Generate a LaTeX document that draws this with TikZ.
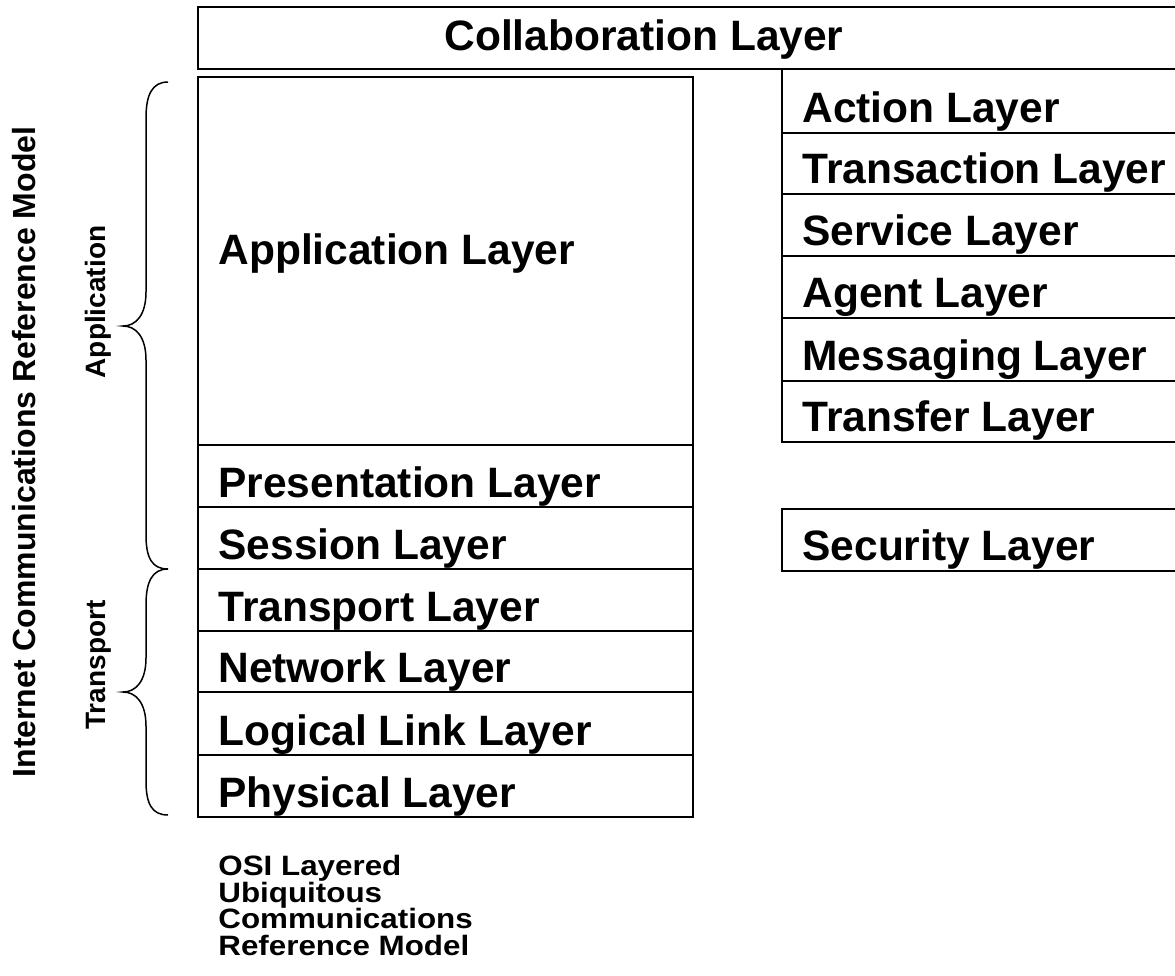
\documentclass[tikz,border=0pt]{standalone}
\usepackage{fontspec}
\setmainfont{Liberation Sans}
\newfontfamily\captfamily[FakeStretch=1.12]{Liberation Sans}
\usetikzlibrary{fit}
\newcommand\captfontsetup{\captfamily\fontsize{14pt}{13.3pt}\selectfont\bfseries\setlength{\lineskiplimit}{-30pt}\setlength{\lineskip}{0pt}}
\begin{document}
\begin{tikzpicture}[x=0.5pt,y=-0.5pt,
  box/.style={draw=black, line width=0.75pt, inner sep=0pt, outer sep=0pt},
  big/.style={font=\fontsize{21.25pt}{24pt}\selectfont\bfseries, inner sep=0pt, anchor=base west},
  side/.style={font=\fontsize{16pt}{18pt}\selectfont\bfseries, inner sep=0pt, anchor=base, rotate=90},
  grp/.style={font=\fontsize{14pt}{16pt}\selectfont\bfseries, inner sep=0pt, anchor=base, rotate=90},
  capt/.style={font=\captfontsetup, inner sep=0pt, anchor=north west, align=left},
  brace/.style={draw=black, line width=0.75pt}]
\useasboundingbox (0,0) rectangle (1175,976);
% top layer
\node[box, fit={(198,7) (1190,69)}] (collab) {};
\node[big, anchor=base] (collabt) at (644,50) {Collaboration Layer};
% left column
\node[box, fit={(198,77) (693,445)}] (app) {};
\node[box, fit={(198,445) (693,507)}] (pres) {};
\node[box, fit={(198,507) (693,569)}] (sess) {};
\node[box, fit={(198,569) (693,631)}] (trans) {};
\node[box, fit={(198,631) (693,692)}] (net) {};
\node[box, fit={(198,692) (693,755)}] (llc) {};
\node[box, fit={(198,755) (693,817)}] (phys) {};
\node[big] (appt) at (218,264) {Application Layer};
\node[big] (prest) at ([xshift=10pt,yshift=5pt]pres.south west) {Presentation Layer};
\node[big] (sesst) at ([xshift=10pt,yshift=5pt]sess.south west) {Session Layer};
\node[big] (transt) at ([xshift=10pt,yshift=5pt]trans.south west) {Transport Layer};
\node[big] (nett) at ([xshift=10pt,yshift=5pt]net.south west) {Network Layer};
\node[big] (llct) at ([xshift=10pt,yshift=5pt]llc.south west) {Logical Link Layer};
\node[big] (physt) at ([xshift=10pt,yshift=5pt]phys.south west) {Physical Layer};
% right column
\node[box, fit={(782,69) (1190,133)}] (action) {};
\node[box, fit={(782,133) (1190,194)}] (transaction) {};
\node[box, fit={(782,194) (1190,256)}] (service) {};
\node[box, fit={(782,256) (1190,318)}] (agent) {};
\node[box, fit={(782,318) (1190,381)}] (messaging) {};
\node[box, fit={(782,381) (1190,442)}] (transfer) {};
\node[box, fit={(782,509) (1190,571)}] (security) {};
\node[big] (actiont) at ([xshift=10pt,yshift=5.5pt]action.south west) {Action Layer};
\node[big] (transactiont) at ([xshift=10pt,yshift=5.5pt]transaction.south west) {Transaction Layer};
\node[big] (servicet) at ([xshift=10pt,yshift=5.5pt]service.south west) {Service Layer};
\node[big] (agentt) at ([xshift=10pt,yshift=5.5pt]agent.south west) {Agent Layer};
\node[big] (messagingt) at ([xshift=10pt,yshift=5.5pt]messaging.south west) {Messaging Layer};
\node[big] (transfert) at ([xshift=10pt,yshift=5.5pt]transfer.south west) {Transfer Layer};
\node[big] (securityt) at ([xshift=10pt,yshift=5.5pt]security.south west) {Security Layer};
% braces
\path[brace] (168,82) .. controls (152,82) and (146,95) .. (146,118) -- (146,292)
  .. controls (146,315) and (136,326) .. (123,326)
  .. controls (136,326) and (146,337) .. (146,360) -- (146,535)
  .. controls (146,558) and (152,569) .. (168,569);
\path[brace] (168,569) .. controls (152,569) and (146,582) .. (146,605) -- (146,658)
  .. controls (146,681) and (136,692) .. (123,692)
  .. controls (136,692) and (146,703) .. (146,726) -- (146,781)
  .. controls (146,804) and (152,815) .. (168,815);
% side labels
\node[side] (icrm) at (35,452) {Internet Communications Reference Model};
\node[grp] (appg) at (105,302) {Application};
\node[grp] (transg) at (105,665) {Transport};
% caption
\node[capt] (caption) at (218,855) {OSI Layered\\Ubiquitous\\Communications\\Reference Model};
\end{tikzpicture}
\end{document}
